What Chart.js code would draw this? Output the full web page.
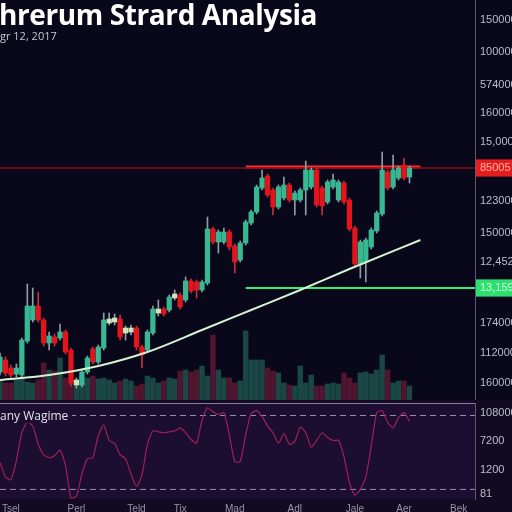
<!DOCTYPE html>
<html>
<head>
<meta charset="utf-8">
<script src="https://cdn.jsdelivr.net/npm/chart.js@4.4.1/dist/chart.umd.min.js"></script>
<style>
  html, body { margin: 0; padding: 0; background: #08081a; }
  #wrap { position: relative; width: 512px; height: 512px; overflow: hidden; background: #08081a; }
  canvas { position: absolute; left: 0; }
  #price { top: 0; }
  #osc { top: 400px; background: #120a22; }
  #title { position: absolute; left: -1px; top: -1px; font: bold 28px "Open Sans", sans-serif; line-height: 30px; color: #fff; white-space: nowrap; letter-spacing: -0.4px; }
  #sub { position: absolute; left: 0; top: 28px; font: 11px "Open Sans", sans-serif; color: #c8c8d4; white-space: nowrap; }
  #oscName { position: absolute; left: 0; top: 408px; font: 12px "Open Sans", sans-serif; line-height: 15px; color: #e4e0ec; background: #1c0e30; padding-right: 4px; }
</style>
</head>
<body>
<div id="wrap">
  <canvas id="price" width="512" height="400"></canvas>
  <canvas id="osc" width="512" height="112"></canvas>
  <div id="title">hrerum Strard Analysia</div>
  <div id="sub">gr 12, 2017</div>
  <div id="oscName">any Wagime</div>
</div>
<script>
// slots on the time axis (candles fill the first 76, the rest is empty space)
const slotCount = 88;
const slots = Array.from({ length: slotCount }, (_, i) => String(i));

// candles
const opens  = [28, 40, 32, 26, 25, 59, 80, 94, 80, 57, 63, 62, 68, 50, 15, 15, 28, 51, 38, 52,
                77, 78, 81, 67, 68, 72, 53, 50, 67, 87, 91, 90, 102, 105, 100, 119, 118, 110, 117, 171,
                158, 158, 168, 154, 140, 157, 177, 188, 212, 224, 210, 193, 202, 215, 200, 200, 210, 213, 230, 212,
                198, 213, 200, 217, 200, 172, 136, 138, 153, 169, 186, 228, 213, 222, 235, 223];
const closes = [43, 27, 25, 32, 60, 94, 94, 80, 57, 64, 57, 68, 48, 17, 20, 28, 42, 38, 53, 80,
                81, 82, 63, 72, 72, 53, 45, 68, 91, 91, 86, 103, 106, 93, 119, 109, 110, 118, 171, 158,
                168, 168, 153, 138, 157, 178, 188, 213, 222, 205, 193, 213, 215, 200, 207, 210, 230, 230, 195, 194,
                218, 220, 218, 198, 171, 136, 158, 160, 170, 187, 230, 212, 230, 232, 222, 232];
const highs  = [47, 43, 35, 36, 62, 116, 112, 108, 82, 68, 66, 76, 70, 52, 22, 30, 44, 53, 55, 87,
                87, 86, 85, 74, 75, 74, 55, 70, 94, 100, 93, 105, 110, 107, 123, 121, 120, 120, 183, 173,
                170, 172, 170, 156, 159, 180, 190, 215, 230, 226, 212, 215, 223, 217, 209, 212, 239, 232, 232, 214,
                220, 226, 220, 219, 202, 174, 160, 162, 172, 189, 248, 230, 245, 234, 242, 234];
const lows   = [25, 24, 22, 23, 23, 57, 78, 78, 54, 50, 54, 60, 46, 14, 12, 13, 26, 36, 36, 50,
                75, 75, 60, 60, 65, 50, 32, 48, 65, 84, 84, 88, 100, 91, 98, 107, 102, 108, 115, 156,
                147, 156, 150, 127, 138, 155, 175, 186, 210, 203, 185, 191, 200, 198, 185, 198, 185, 211, 193, 185,
                196, 211, 198, 196, 169, 134, 122, 118, 151, 167, 184, 210, 211, 220, 220, 217];
const volumes = [19, 17, 17, 20, 22, 18, 17, 20, 37, 30, 29, 42, 22, 19, 17, 24, 22, 24, 21, 22,
                 20, 17, 19, 21, 19, 14, 16, 24, 22, 17, 19, 22, 21, 29, 30, 28, 30, 34, 24, 65,
                 30, 22, 22, 17, 19, 69, 40, 40, 40, 32, 29, 27, 17, 15, 14, 34, 17, 25, 14, 14,
                 16, 17, 16, 27, 22, 17, 27, 28, 26, 30, 45, 30, 17, 19, 19, 14];

// moving average, read at a few slots
const maIdx  = [0, 9, 18, 27, 37, 46, 55, 64, 77];
const maVals = [20, 25, 34, 48, 70, 90, 110, 131, 160];

// horizontal levels
const resistance = 232;
const resistanceBold = 233;
const resistanceFrom = 45, resistanceTo = 77;
const support = 112;
const supportFrom = 45;

// right axis
const priceTicks = [380, 348, 315, 287, 258, 232, 199, 167, 138, 112, 77, 47, 17];
const priceTickLabels = ['150000', '100000', '574000', '160000', '15,000', '85005', '123000',
                         '150000', '12,452', '13,159', '174000', '112000', '160000'];

// oscillator
const oscVals = [38, 23, 20, 40, 69, 80, 76, 57, 46, 43, 45, 51, 35, 1, 3, 26, 42, 43, 66, 77,
                 61, 58, 46, 42, 26, 13, 25, 57, 71, 70, 69, 70, 71, 74, 69, 62, 58, 82, 95, 91,
                 88, 90, 67, 39, 39, 67, 89, 92, 86, 76, 69, 58, 68, 57, 60, 75, 69, 54, 61, 69,
                 64, 61, 61, 44, 17, 4, 10, 23, 55, 90, 92, 80, 74, 85, 90, 81];
const oscUpper = 87, oscLower = 10;
const oscTicks = [90, 60, 30, 5];
const oscTickLabels = ['108000', '7200', '1200', '81'];

// bottom axis
const monthIdx = [2, 14, 25, 33, 43, 54, 65, 74, 84];
const monthLabels = ['Tsel', 'Perl', 'Teld', 'Tix', 'Mad', 'Adl', 'Jale', 'Aer', 'Bek'];

const isUp = i => closes[i] >= opens[i];
const bodyColor = i => {
    if (!isUp(i)) return '#e3141c';
    return closes[i] - opens[i] <= 5 ? '#cfe3bc' : '#37b892';
};

const panelBg = {
    id: 'panelBg',
    beforeDraw(chart, args, opts) {
        const { ctx, chartArea: a } = chart;
        ctx.save();
        if (opts.color) {
            ctx.fillStyle = opts.color;
            ctx.fillRect(a.left, a.top, a.right - a.left, a.bottom - a.top);
        }
        if (opts.topLine) {
            ctx.strokeStyle = opts.topLine;
            ctx.lineWidth = 1;
            ctx.beginPath();
            ctx.moveTo(a.left, a.top + 0.5);
            ctx.lineTo(a.right, a.top + 0.5);
            ctx.stroke();
        }
        ctx.restore();
    }
};

function fixY(s) {
    s.width = 37;
    s.paddingTop = 0;
    s.paddingBottom = 0;
}

const tickFont = { family: 'Liberation Sans', size: 11 };

new Chart(document.getElementById('price'), {
    type: 'bar',
    data: {
        labels: slots,
        datasets: [
            {
                label: 'Volume',
                data: volumes,
                yAxisID: 'yVol',
                backgroundColor: volumes.map((v, i) => isUp(i) ? '#1a4644' : '#50152f'),
                barThickness: 4.8,
                grouped: false,
                order: 7
            },
            {
                type: 'line',
                label: 'Resistance',
                data: [{ x: slots[0], y: resistance }, { x: slots[slotCount - 1], y: resistance }],
                borderColor: '#8a0d14',
                borderWidth: 1.5,
                pointRadius: 0,
                order: 6
            },
            {
                type: 'line',
                label: 'Resistance zone',
                data: [{ x: slots[resistanceFrom], y: resistanceBold }, { x: slots[resistanceTo], y: resistanceBold }],
                borderColor: '#ff2a2a',
                borderWidth: 3,
                pointRadius: 0,
                order: 6
            },
            {
                type: 'line',
                label: 'Support',
                data: [{ x: slots[supportFrom], y: support }, { x: slots[slotCount - 1], y: support }],
                borderColor: '#33ee77',
                borderWidth: 2,
                pointRadius: 0,
                order: 6
            },
            {
                label: 'Wicks',
                data: lows.map((l, i) => [l, highs[i]]),
                backgroundColor: lows.map((l, i) => isUp(i) ? '#8e9ca4' : '#c03040'),
                barThickness: 1,
                grouped: false,
                order: 5
            },
            {
                label: 'Candles',
                data: opens.map((o, i) => [o, closes[i]]),
                backgroundColor: opens.map((o, i) => bodyColor(i)),
                barThickness: 4.6,
                grouped: false,
                borderSkipped: false,
                order: 4
            },
            {
                type: 'line',
                label: 'MA',
                data: maIdx.map((k, j) => ({ x: slots[k], y: maVals[j] })),
                borderColor: '#d6f2d2',
                borderWidth: 2,
                pointRadius: 0,
                cubicInterpolationMode: 'monotone',
                order: 1
            }
        ]
    },
    options: {
        responsive: false,
        animation: false,
        devicePixelRatio: 1,
        layout: { padding: 0 },
        plugins: { legend: { display: false }, tooltip: { enabled: false } },
        scales: {
            x: { type: 'category', offset: false, display: false, grid: { display: false } },
            y: {
                position: 'right',
                min: 0,
                max: 400,
                grid: { display: false, drawTicks: false },
                border: { display: true, color: '#5a5a72', width: 1 },
                afterBuildTicks: s => { s.ticks = priceTicks.map(v => ({ value: v })); },
                afterFit: fixY,
                ticks: {
                    padding: 5,
                    font: tickFont,
                    color: c => c.tick.value === resistance ? '#ffb4a8' : c.tick.value === support ? '#c8ffd8' : '#bcbccb',
                    showLabelBackdrop: c => c.tick.value === resistance || c.tick.value === support,
                    backdropColor: c => c.tick.value === resistance ? '#e41e1e' : '#2ee070',
                    backdropPadding: { x: 4, y: 2 },
                    callback: (v, i) => priceTickLabels[i]
                }
            },
            yVol: { display: false, min: 0, max: 400 }
        }
    },
    plugins: [panelBg]
});

new Chart(document.getElementById('osc'), {
    type: 'line',
    data: {
        labels: slots,
        datasets: [
            {
                label: 'Oscillator',
                data: oscVals,
                borderColor: '#a01f58',
                borderWidth: 1.2,
                pointRadius: 0,
                tension: 0.2
            },
            {
                label: 'Upper',
                data: [{ x: slots[0], y: oscUpper }, { x: slots[slotCount - 1], y: oscUpper }],
                borderColor: '#9a8cb2',
                borderWidth: 1,
                borderDash: [6, 4],
                pointRadius: 0
            },
            {
                label: 'Lower',
                data: [{ x: slots[0], y: oscLower }, { x: slots[slotCount - 1], y: oscLower }],
                borderColor: '#9a8cb2',
                borderWidth: 1,
                borderDash: [6, 4],
                pointRadius: 0
            }
        ]
    },
    options: {
        responsive: false,
        animation: false,
        devicePixelRatio: 1,
        layout: { padding: { top: 3, left: 0, right: 0, bottom: 0 } },
        plugins: {
            legend: { display: false },
            tooltip: { enabled: false },
            panelBg: { color: '#1c0e30', topLine: '#8a7ca4' }
        },
        scales: {
            x: {
                type: 'category',
                offset: false,
                grid: { display: false, drawTicks: false },
                border: { display: false },
                afterFit: s => { s.height = 13; s.paddingLeft = 0; s.paddingRight = 0; },
                ticks: {
                    autoSkip: false,
                    maxRotation: 0,
                    padding: 4,
                    font: { family: 'Liberation Sans', size: 10 },
                    color: '#9891a8',
                    callback: (v, i) => {
                        const k = monthIdx.indexOf(i);
                        return k >= 0 ? monthLabels[k] : null;
                    }
                }
            },
            y: {
                position: 'right',
                min: 0,
                max: 100,
                grid: { display: false, drawTicks: false },
                border: { display: true, color: '#5a5a72', width: 1 },
                afterBuildTicks: s => { s.ticks = oscTicks.map(v => ({ value: v })); },
                afterFit: fixY,
                ticks: {
                    padding: 5,
                    font: tickFont,
                    color: '#bcbccb',
                    callback: (v, i) => oscTickLabels[i]
                }
            }
        }
    },
    plugins: [panelBg]
});
</script>
</body>
</html>
